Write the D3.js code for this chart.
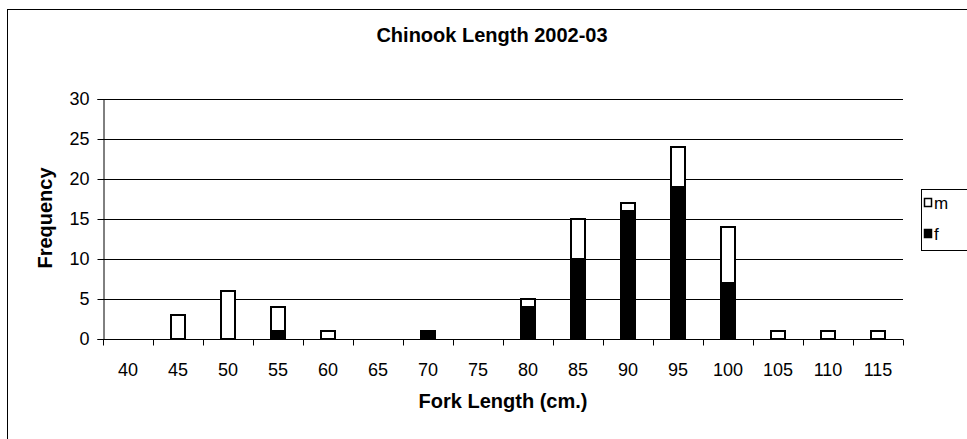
<!DOCTYPE html>
<html><head><meta charset="utf-8">
<script src="https://cdn.jsdelivr.net/npm/d3@7"></script>
<style>body{margin:0;background:#fff}svg{display:block;font-family:Arial,"Liberation Sans",sans-serif}</style>
</head><body>
<svg id="c" width="967" height="439"></svg>
<script>
const categories = ["40","45","50","55","60","65","70","75","80","85","90","95","100","105","110","115"];
const fValues = [0,0,0,1,0,0,1,0,4,10,16,19,7,0,0,0];
const mValues = [0,3,6,3,1,0,0,0,1,5,1,5,7,1,1,1];
const yTicks = [0,5,10,15,20,25,30];
const seriesNames = ["f","m"];

const svg = d3.select("#c");
const m = {left:103, right:903, top:99, bottom:339};
const FONT = "Arial, Liberation Sans, sans-serif";

svg.append("rect").attr("x",7.5).attr("y",9.5).attr("width",1000).attr("height",500)
  .attr("fill","#fff").attr("stroke","#000").attr("stroke-width",1);

const x = d3.scaleBand().domain(categories).range([m.left,m.right]).paddingInner(0.72).paddingOuter(0.36);
const y = d3.scaleLinear().domain([0,30]).range([m.bottom,m.top]);

// gridlines
svg.append("g").selectAll("line").data(yTicks.filter(d=>d>0)).join("line")
  .attr("x1",m.left).attr("x2",m.right).attr("y1",d=>Math.round(y(d))+0.5).attr("y2",d=>Math.round(y(d))+0.5)
  .attr("stroke","#000").attr("stroke-width",1);

// stacked bars
const data = categories.map((c,i)=>({cat:c,f:fValues[i],m:mValues[i]}));
const stack = d3.stack().keys(seriesNames)(data);
const fills = {f:"#000", m:"#fff"};
stack.forEach(layer=>{
  svg.append("g").selectAll("rect").data(layer.filter(d=>d[1]-d[0]>0)).join("rect")
    .attr("x",d=>x(d.data.cat)).attr("width",x.bandwidth())
    .attr("y",d=>y(d[1])).attr("height",d=>y(d[0])-y(d[1]))
    .attr("fill",fills[layer.key]).attr("stroke","#000").attr("stroke-width",2);
});

// y axis
const yAxis = svg.append("g").attr("transform",`translate(${m.left+0.5},0)`)
  .call(d3.axisLeft(y).tickValues(yTicks).tickSize(6).tickPadding(8));
yAxis.select(".domain").attr("stroke","#000");
yAxis.selectAll("line").attr("stroke","#000");
yAxis.selectAll("text").attr("font-size",18).attr("fill","#000").attr("font-family",FONT);

// x axis
const xb = d3.scaleLinear().domain([0,categories.length]).range([m.left,m.right]);
const xAxisG = svg.append("g").attr("transform",`translate(0,${m.bottom+0.5})`);
xAxisG.append("line").attr("x1",m.left).attr("x2",m.right).attr("stroke","#000");
xAxisG.selectAll("line.t").data(d3.range(categories.length+1)).join("line").attr("class","t")
  .attr("x1",d=>Math.round(xb(d))+0.5).attr("x2",d=>Math.round(xb(d))+0.5).attr("y1",0).attr("y2",6).attr("stroke","#000");
xAxisG.selectAll("text").data(categories).join("text")
  .attr("x",d=>x(d)+x.bandwidth()/2).attr("y",36).attr("text-anchor","middle")
  .attr("font-size",18).text(d=>d);

// titles
svg.append("text").attr("x",492).attr("y",42).attr("text-anchor","middle")
  .attr("font-size",20).attr("font-weight","bold").text("Chinook Length 2002-03");
svg.append("text").attr("x",503).attr("y",408).attr("text-anchor","middle")
  .attr("font-size",20).attr("font-weight","bold").text("Fork Length (cm.)");
svg.append("text").attr("transform","translate(52,218) rotate(-90)").attr("text-anchor","middle")
  .attr("font-size",20).attr("font-weight","bold").text("Frequency");

// legend
const lg = svg.append("g");
lg.append("rect").attr("x",921.5).attr("y",189.5).attr("width",60).attr("height",61)
  .attr("fill","#fff").attr("stroke","#000").attr("stroke-width",1);
const legendItems = ["m","f"];
legendItems.forEach((k,i)=>{
  const yy = 198 + i*31;
  lg.append("rect").attr("x",924.5).attr("y",yy+0.5).attr("width",7).attr("height",8)
    .attr("fill",fills[k]).attr("stroke","#000").attr("stroke-width",1.5);
  lg.append("text").attr("x",934).attr("y",yy+11).attr("font-size",17).text(k);
});
</script>
</body></html>
